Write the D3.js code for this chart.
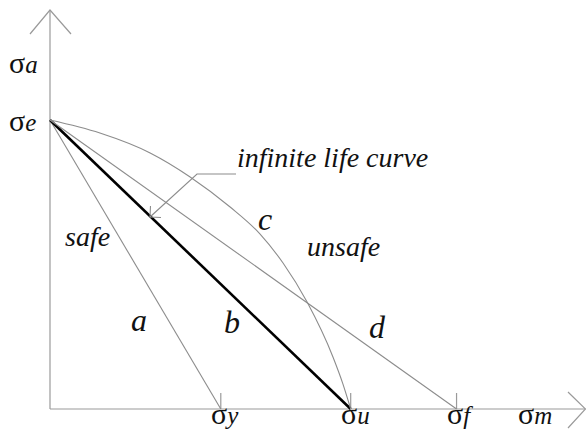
<!DOCTYPE html>
<html>
<head>
<meta charset="utf-8">
<script src="https://cdn.jsdelivr.net/npm/d3@7"></script>
<style>
  body { margin: 0; }
  #wrap { position: relative; width: 586px; height: 436px; background: #fff; }
  #wrap svg { position: absolute; left: 0; top: 0; }
  .lbl {
    position: absolute; white-space: nowrap; color: #111;
    font-family: Liberation Serif; font-size: 22px; line-height: 22px;
    transform-origin: 0 18.4px;
  }
  .lbl .it { font-style: italic; }
</style>
</head>
<body>
<div id="wrap"><svg id="chart" width="586" height="436"></svg></div>
<script>
// Stress amplitude (σa) vs mean stress (σm), normalised so σu = 1 and σe = 1.
const enduranceLimit = 1.0;                   // σe on the amplitude axis
const strengthLabels = ["σy", "σu", "σf"];     // yield, ultimate, true fracture
const strengthValues = [0.568, 1.0, 1.352];
const lineNames = ["a", "b", "d"];             // Soderberg, Goodman, Morrow lines
// Gerber-type curve "c" from σe down to σu
const curveMean = [0, 0.166, 0.333, 0.466, 0.599, 0.698, 0.775, 0.855, 0.941, 0.974, 1.0];
const curveAmp  = [1, 0.955, 0.886, 0.803, 0.699, 0.606, 0.505, 0.370, 0.180, 0.087, 0];

const wrap = d3.select("#wrap");
const svg = d3.select("#chart");
const x = d3.scaleLinear().domain([0, 1]).range([50, 350.7]);
const y = d3.scaleLinear().domain([0, 1]).range([409, 120]);

const axisColor = "#9a9a9a";
const thin = "#8c8c8c";
const baseSize = 22;      // labels are set at this size and scaled up
const baselineOff = 18.4; // baseline position inside a 22px line box

// axes with open arrowheads
const g = svg.append("g");
g.append("line").attr("x1", x(0)).attr("y1", y(0)).attr("x2", x(0)).attr("y2", 10)
  .attr("stroke", axisColor).attr("stroke-width", 1.2);
g.append("path").attr("d", `M${x(0) - 20},34 L${x(0)},10 L${x(0) + 21},34`)
  .attr("fill", "none").attr("stroke", axisColor).attr("stroke-width", 1.2);
g.append("line").attr("x1", x(0)).attr("y1", y(0)).attr("x2", 585.5).attr("y2", y(0))
  .attr("stroke", axisColor).attr("stroke-width", 1.2);
g.append("path").attr("d", `M568,${y(0) - 17} L585.5,${y(0)} L568,${y(0) + 19}`)
  .attr("fill", "none").attr("stroke", axisColor).attr("stroke-width", 1.2);

// ticks at the strength values
g.selectAll(".tick").data(strengthValues).enter().append("line")
  .attr("x1", d => x(d)).attr("x2", d => x(d))
  .attr("y1", y(0) - 16).attr("y2", y(0))
  .attr("stroke", axisColor).attr("stroke-width", 1.2);

// straight failure lines from σe to each strength value
const lines = strengthValues.map((v, i) => ({ name: lineNames[i], to: v }));
svg.selectAll(".fl").data(lines).enter().append("line")
  .attr("x1", x(0)).attr("y1", y(enduranceLimit))
  .attr("x2", d => x(d.to)).attr("y2", y(0))
  .attr("stroke", d => d.name === "b" ? "#000" : thin)
  .attr("stroke-width", d => d.name === "b" ? 2.6 : 1.1);

// curve c
const curvePts = curveMean.map((m, i) => [m, curveAmp[i]]);
svg.append("path").datum(curvePts)
  .attr("d", d3.line().x(d => x(d[0])).y(d => y(d[1])).curve(d3.curveMonotoneX))
  .attr("fill", "none").attr("stroke", thin).attr("stroke-width", 1.1);

// leader arrow for "infinite life curve"
const tip = [150, 217];
svg.append("path").attr("d", `M236,174 L197,174 L${tip[0]},${tip[1]}`)
  .attr("fill", "none").attr("stroke", thin).attr("stroke-width", 1.1);
const ang = Math.atan2(174 - tip[1], 197 - tip[0]);
const wing = 11;
const w1 = [tip[0] + wing * Math.cos(ang - Math.PI / 4), tip[1] + wing * Math.sin(ang - Math.PI / 4)];
const w2 = [tip[0] + wing * Math.cos(ang + Math.PI / 4), tip[1] + wing * Math.sin(ang + Math.PI / 4)];
svg.append("path").attr("d", `M${w1} L${tip} L${w2}`)
  .attr("fill", "none").attr("stroke", thin).attr("stroke-width", 1.1);

// text labels: (px, py) is the left end of the baseline
function place(px, py, size) {
  return wrap.append("div").attr("class", "lbl")
    .style("left", px + "px")
    .style("top", (py - baselineOff) + "px")
    .style("transform", `scale(${size / baseSize})`);
}
function sigLabel(sub, px, py) {
  const d = place(px, py, 30);
  d.append("span").text("σ");
  d.append("span").attr("class", "it").style("font-size", (baseSize * 25 / 30) + "px").text(sub);
}
sigLabel("a", 9, 73);
sigLabel("e", 9, 131);
strengthLabels.forEach((s, i) => sigLabel(s.slice(1), x(strengthValues[i]) - 10, 424));
sigLabel("m", 518, 424);

function label(txt, px, py, size) {
  place(px, py, size).append("span").attr("class", "it").text(txt);
}
label("infinite life curve", 237, 167, 28);
label("safe", 65, 246, 28);
label("unsafe", 307, 256, 28);
label("a", 131, 331, 32);
label("b", 224, 333, 32);
label("c", 258, 230, 32);
label("d", 369, 338, 32);
</script>
</body>
</html>
